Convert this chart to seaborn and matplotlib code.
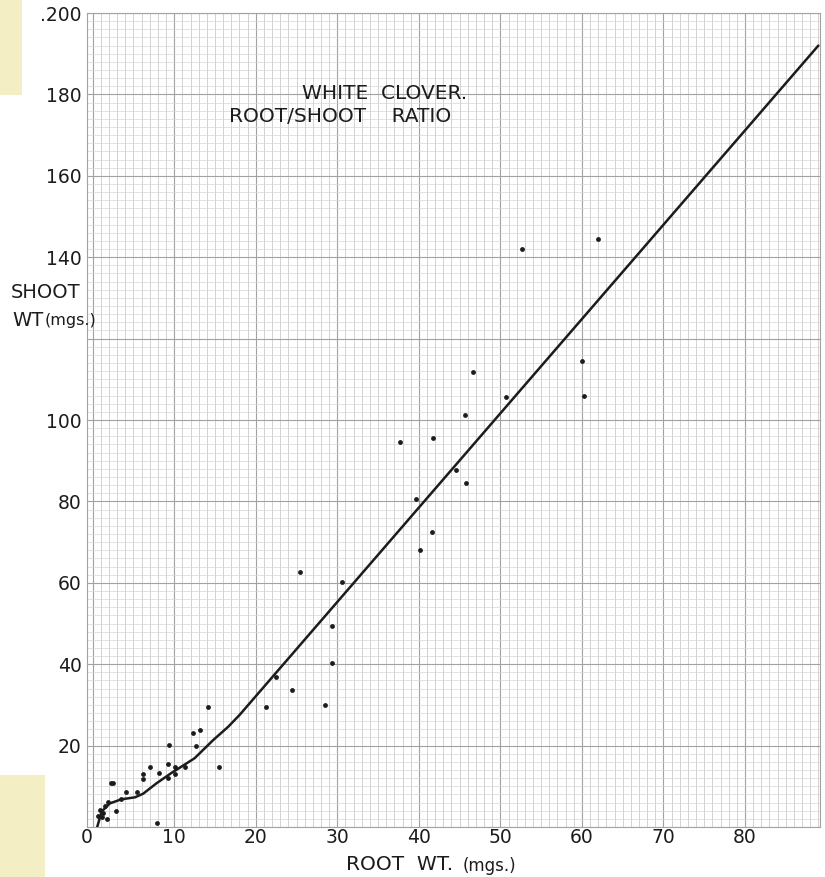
import matplotlib
matplotlib.use("Agg")
import matplotlib.pyplot as plt
from matplotlib.ticker import MultipleLocator, FixedLocator
from matplotlib.patches import Rectangle
import seaborn as sns
import pandas as pd

# ---- data ----
curve_root = [0.55, 1.1, 2.1, 3.5, 5.2, 6.2, 7.8, 9.6, 12.5, 14.8, 16.6, 18.0, 89.0]
curve_shoot = [0.0, 3.8, 5.8, 6.8, 7.3, 8.2, 10.7, 13.2, 16.9, 21.4, 24.6, 27.5, 192.0]

point_root = [0.65, 1.14, 1.7, 0.86, 1.27, 2.8, 1.55, 1.9, 3.5, 4.05, 5.4, 2.2, 2.5,
              6.2, 6.2, 8.1, 9.2, 10.1, 7.0, 9.2, 10.1, 11.3, 15.5, 9.36, 12.7,
              12.3, 13.2, 14.1, 7.9, 21.3, 22.5, 24.5, 28.5, 29.4, 29.4, 25.4,
              30.6, 40.2, 41.6, 39.6, 45.8, 44.6, 37.7, 41.7, 45.6, 50.7, 60.3,
              46.7, 60.0, 52.7, 62.0]
point_shoot = [2.7, 2.4, 1.9, 4.2, 3.5, 3.9, 5.2, 6.2, 7.0, 8.7, 8.5, 10.9, 10.7,
               12.9, 11.8, 13.2, 12.0, 12.9, 14.7, 15.4, 14.8, 14.8, 14.8, 20.1, 19.9,
               23.0, 23.8, 29.4, 0.9, 29.6, 36.8, 33.7, 30.0, 49.5, 40.4, 62.6,
               60.2, 68.1, 72.4, 80.7, 84.4, 87.7, 94.7, 95.7, 101.2, 105.6, 105.9,
               111.7, 114.6, 141.9, 144.5]

x_ticks = [0, 10, 20, 30, 40, 50, 60, 70, 80]
x_tick_labels = ["0", "10", "20", "30", "40", "50", "60", "70", "80"]
y_ticks = [0, 20, 40, 60, 80, 100, 120, 140, 160, 180, 200]
y_tick_labels = ["", "20", "40", "60", "80", "100", "", "140", "160", "180", ".200"]

title_line1 = "WHITE  CLOVER."
title_line2 = "ROOT/SHOOT    RATIO"
x_label = "ROOT  WT."
x_label_unit = "(mgs.)"
y_label1 = "SHOOT"
y_label2 = "WT"
y_label2_unit = "(mgs.)"

# ---- figure ----
sns.set_theme(style="white")
plt.rcParams["font.family"] = ["DejaVu Sans"]

INK = "#1c1c1c"
W, H = 825, 877
fig = plt.figure(figsize=(W / 100, H / 100), dpi=100)
fig.patch.set_facecolor("white")

# scan artefacts (tape patches at the left edge)
fig.patches.append(Rectangle((0, 1 - 95 / H), 22 / W, 95 / H, transform=fig.transFigure,
                             facecolor="#f4eec4", edgecolor="none", zorder=0))
fig.patches.append(Rectangle((0, 0), 45 / W, 102 / H, transform=fig.transFigure,
                             facecolor="#f4eec4", edgecolor="none", zorder=0))

ax = fig.add_axes([87 / W, (H - 827) / H, (820 - 87) / W, (827 - 13) / H])
ax.set_facecolor("white")
ax.set_xlim(-0.7, 89.2)
ax.set_ylim(0, 200)

ax.xaxis.set_major_locator(FixedLocator(x_ticks))
ax.yaxis.set_major_locator(FixedLocator(y_ticks))
ax.xaxis.set_minor_locator(MultipleLocator(1))
ax.yaxis.set_minor_locator(MultipleLocator(2))
ax.set_xticklabels(x_tick_labels)
ax.set_yticklabels(y_tick_labels)

# graph-paper grid
ax.grid(which="minor", axis="x", color="#c6c6c6", linewidth=0.55)
ax.grid(which="minor", axis="y", color="#d6d6d6", linewidth=0.5)
ax.grid(which="major", color="#a2a2a2", linewidth=0.8)
ax.set_axisbelow(True)

ax.tick_params(which="both", length=0)
ax.tick_params(axis="x", labelsize=13.5, pad=1, colors=INK)
ax.tick_params(axis="y", labelsize=13.5, pad=4, colors=INK)
for lbl in ax.get_xticklabels():
    if lbl.get_text() == "0":
        lbl.set_horizontalalignment("right")

for s in ax.spines.values():
    s.set_color("#a2a2a2")
    s.set_linewidth(0.8)

curve = pd.DataFrame({"root": curve_root, "shoot": curve_shoot})
pts = pd.DataFrame({"root": point_root, "shoot": point_shoot})

sns.lineplot(data=curve, x="root", y="shoot", sort=False, ax=ax,
             color=INK, linewidth=1.8, zorder=3)
sns.scatterplot(data=pts, x="root", y="shoot", ax=ax, color=INK,
                s=12, linewidth=0, zorder=4)

ax.set_xlabel("")
ax.set_ylabel("")

# titles inside the plot
ax.text(35.8, 180.3, title_line1, ha="center", va="center", fontsize=14.5, color=INK)
ax.text(30.3, 174.6, title_line2, ha="center", va="center", fontsize=14.5, color=INK)

# axis labels
fig.text(400 / W, 1 - 865 / H, x_label, ha="center", va="center", fontsize=14.5, color=INK)
fig.text(463 / W, 1 - 866 / H, x_label_unit, ha="left", va="center", fontsize=12, color=INK)
fig.text(46 / W, 1 - 293 / H, y_label1, ha="center", va="center", fontsize=14, color=INK)
fig.text(12 / W, 1 - 320 / H, y_label2, ha="left", va="center", fontsize=14, color=INK)
fig.text(45 / W, 1 - 321 / H, y_label2_unit, ha="left", va="center", fontsize=11.5, color=INK)

fig.savefig("out.png", dpi=100, facecolor=fig.get_facecolor())
